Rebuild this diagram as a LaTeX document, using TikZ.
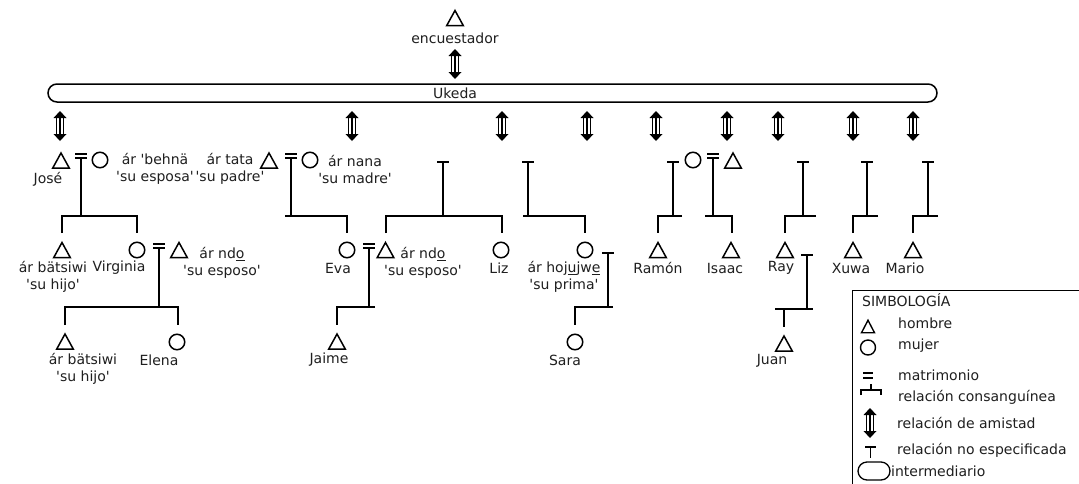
\documentclass[tikz,border=0pt]{standalone}
\usepackage{fontspec}
\setmainfont{DejaVu Sans}[Ligatures=TeXOff]
\tikzset{
  friend/.pic={
    \fill (-6.5,-8) -- (0,-15) -- (6.5,-8) -- cycle;
    \fill (-6.5,8) -- (0,15) -- (6.5,8) -- cycle;
    \draw[line width=2pt] (0,-8) -- (0,8);
    \draw[line width=0.8pt] (-3.2,-8) -- (-3.2,8) (3.2,-8) -- (3.2,8);
  }
}
\begin{document}
\begin{tikzpicture}[x=1pt,y=-1pt,
  every node/.style={font=\fontsize{14}{17}\selectfont, inner sep=0pt, text=black!88},
  man/.style={rectangle, minimum width=16.5pt, minimum height=15pt, inner sep=0pt, outer sep=0pt},
  tri/.style={draw, line width=1.5pt, line join=miter},
  woman/.style={draw, line width=1.5pt, circle, minimum size=15.5pt, inner sep=0pt},
  pill/.style={draw, line width=1.5pt, rounded corners=9pt, minimum height=18pt, inner sep=0pt},
  lbl/.style={align=center},
  link/.style={line width=2pt},
  wed/.style={line width=2pt},
  leg/.style={anchor=west},
]
\useasboundingbox (0,0) rectangle (1079,483);
\fill[white] (0,0) rectangle (1079,483);

% interviewer and intermediary
\node[man] (enc) at (455,18) {};
\node (enctxt) at (455,38) {encuestador};
\pic (fenc) at (455,64) {friend};
\node[pill, minimum width=889pt] (ukeda) at (492.5,93) {};
\node (uktxt) at (455,93) {Ukeda};
\foreach \x [count=\i] in {60,352,502,587,656,727,778,853,913}
  \pic (f\i) at (\x,126) {friend};

% ---- first generation ----
\node[man] (jose) at (61,160.5) {};
\node (josetxt) at (48,179) {José};
\draw[wed] (75,154) -- (87,154) (75,158) -- (87,158);
\node[woman] (josew) at (100,160) {};
\node[lbl] (josewtxt) at (155,169) {ár 'behnä\\'su esposa'};
\draw[link] (81,158) -- (81,216);
\draw[link] (62,233) -- (62,216) -- (137,216) -- (137,233);

\node[lbl] (tatatxt) at (230,169) {ár tata\\'su padre'};
\node[man] (tata) at (269,160.5) {};
\draw[wed] (285,154) -- (297,154) (285,158) -- (297,158);
\node[woman] (nana) at (310,160) {};
\node[lbl] (nanatxt) at (355,169) {ár nana\\'su madre'};
\draw[link] (291,158) -- (291,216);
\draw[link] (285,216) -- (347,216) -- (347,233);

% unspecified relation of Eva's husband and Liz
\draw[link] (437,162) -- (449,162) (443,162) -- (443,216);
\draw[link] (386,233) -- (386,216) -- (502,216) -- (502,233);

% unspecified relation of the cousin
\draw[link] (522,162) -- (534,162) (528,162) -- (528,216);
\draw[link] (523,216) -- (585,216) -- (585,233);

% Ramón and Isaac
\node[woman] (rmom) at (693,160) {};
\draw[wed] (707,154) -- (719,154) (707,158) -- (719,158);
\node[man] (rdad) at (733,160.5) {};
\draw[link] (667,162) -- (679,162) (673,162) -- (673,216);
\draw[link] (682,216) -- (658,216) -- (658,233);
\draw[link] (713,158) -- (713,216);
\draw[link] (705,216) -- (732,216) -- (732,233);

% Ray, Xuwa, Mario
\draw[link] (797,162) -- (809,162) (803,162) -- (803,216);
\draw[link] (816,216) -- (785,216) -- (785,233);
\draw[link] (861,162) -- (873,162) (867,162) -- (867,216);
\draw[link] (878,216) -- (853,216) -- (853,233);
\draw[link] (922,162) -- (934,162) (928,162) -- (928,216);
\draw[link] (938,216) -- (913,216) -- (913,233);

% ---- second generation ----
\node[man] (hijo1) at (62,250) {};
\node[lbl] (hijo1txt) at (53,277) {ár bätsiwi\\'su hijo'};
\node[woman] (virg) at (137,250) {};
\node (virgtxt) at (119,268) {Virginia};
\draw[wed] (153,244) -- (165,244) (153,248) -- (165,248);
\node[man] (ndo1) at (179,250) {};
\node[lbl] (ndo1txt) at (222,263) {ár nd\underline{o}\\'su esposo'};
\draw[link] (159,248) -- (159,307);
\draw[link] (65,325) -- (65,307) -- (178,307) -- (178,325);

\node[woman] (eva) at (347,250) {};
\node (evatxt) at (338,268) {Eva};
\draw[wed] (363,244) -- (375,244) (363,248) -- (375,248);
\node[man] (ndo2) at (385.5,250) {};
\node[lbl] (ndo2txt) at (423,263) {ár nd\underline{o}\\'su esposo'};
\draw[link] (369,248) -- (369,307);
\draw[link] (375,307) -- (337,307) -- (337,325);

\node[woman] (liz) at (501,250) {};
\node (liztxt) at (499,268) {Liz};

\node[woman] (prima) at (585,250) {};
\node[lbl] (primatxt) at (564,277) {ár hoj\underline{u}jw\underline{e}\\'su prima'};
\draw[link] (602,253) -- (614,253) (608,253) -- (608,307);
\draw[link] (613,307) -- (575,307) -- (575,325);

\node[man] (ramon) at (658,250) {};
\node (ramontxt) at (658,268) {Ramón};
\node[man] (isaac) at (731,250) {};
\node (isaactxt) at (725,268) {Isaac};
\node[man] (ray) at (785,250) {};
\node (raytxt) at (781,268) {Ray};
\draw[link] (801,255) -- (813,255) (807,255) -- (807,309);
\draw[link] (775,309) -- (813,309) (784,309) -- (784,327);
\node[man] (xuwa) at (853,250) {};
\node (xuwatxt) at (851,268) {Xuwa};
\node[man] (mario) at (913,250) {};
\node (mariotxt) at (905,268) {Mario};

% ---- third generation ----
\node[man] (hijo2) at (65,341.5) {};
\node[lbl] (hijo2txt) at (83,369) {ár bätsiwi\\'su hijo'};
\node[woman] (elena) at (177,342) {};
\node (elenatxt) at (159,360) {Elena};
\node[man] (jaime) at (337,341.5) {};
\node (jaimetxt) at (329,360) {Jaime};
\node[woman] (sara) at (575,342) {};
\node (saratxt) at (565,360) {Sara};
\node[man] (juan) at (784,343.5) {};
\node (juantxt) at (772,361) {Juan};

% triangle outline of every man
\foreach \n in {enc,jose,tata,rdad,hijo1,ndo1,ndo2,ramon,isaac,ray,xuwa,mario,hijo2,jaime,juan}
  \draw[tri] (\n.south west) -- (\n.north) -- (\n.south east) -- cycle;

% ---- legend ----
\draw[line width=1pt] (1090,290) -- (852,290) -- (852,495);
\node[leg] (legtitle) at (862,300) {SIMBOLOGÍA};
\node[man, minimum width=13pt, minimum height=12.5pt] (legman) at (868,326.5) {};
\draw[tri, line width=1.4pt] (legman.south west) -- (legman.north) -- (legman.south east) -- cycle;
\node[leg] at (898,323) {hombre};
\node[woman, minimum size=15pt, line width=1.4pt] (legwoman) at (868,347.5) {};
\node[leg] at (898,346) {mujer};
\draw[line width=1.5pt] (863,373) -- (873,373) (863,378) -- (873,378);
\node[leg] at (898,375) {matrimonio};
\draw[line width=1.5pt] (861,395) -- (861,390) -- (881,390) -- (881,395) (871,384) -- (871,390);
\node[leg] at (898,397) {relación consanguínea};
\pic (legfriend) at (870,423) {friend};
\node[leg] at (897,423) {relación de amistad};
\draw[line width=1.3pt] (865,447) -- (876,447) (870.5,447) -- (870.5,458);
\node[leg] at (897,450) {relación no especificada};
\node[pill, minimum width=32pt, line width=1.3pt] (legpill) at (874,471) {};
\node[leg] at (891,471) {intermediario};
\end{tikzpicture}
\end{document}
